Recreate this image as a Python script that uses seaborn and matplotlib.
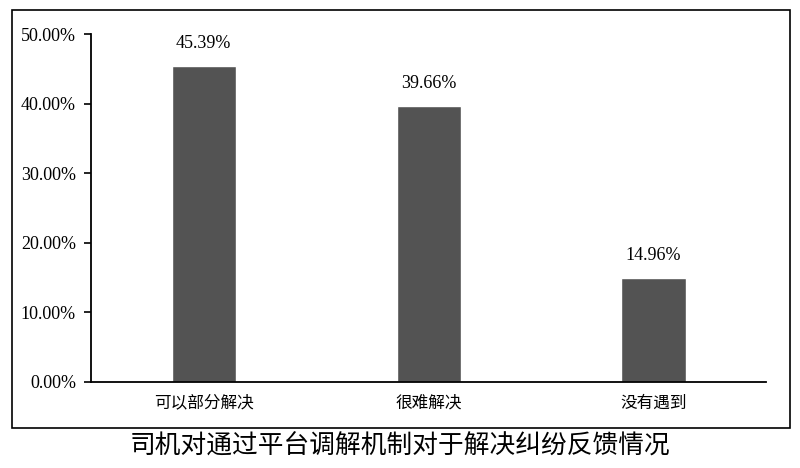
import matplotlib
matplotlib.use('Agg')
import matplotlib.pyplot as plt
import seaborn as sns
import pandas as pd
from matplotlib.patches import Rectangle
from matplotlib.ticker import FuncFormatter

# 数据
categories = ['可以部分解决', '很难解决', '没有遇到']
values = [45.39, 39.66, 14.96]
title = '司机对通过平台调解机制对于解决纠纷反馈情况'

sns.set_style('ticks')
plt.rcParams['font.family'] = ['Liberation Serif', 'Noto Sans CJK SC']
plt.rcParams['text.color'] = 'black'
plt.rcParams['xtick.color'] = 'black'
plt.rcParams['ytick.color'] = 'black'
plt.rcParams['axes.edgecolor'] = 'black'

df = pd.DataFrame({'cat': categories, 'val': values})

fig = plt.figure(figsize=(8, 4.68), dpi=100)
ax = fig.add_axes([0.114, 0.184, 0.8435, 0.743])

sns.barplot(data=df, x='cat', y='val', color='#535353', width=0.285,
            saturation=1, ax=ax)

for i, v in enumerate(values):
    ax.text(i, v + 2.0, f'{v:.2f}%', ha='center', va='bottom', fontsize=13,
            family='Liberation Serif')

ax.set_xlim(-0.5, 2.5)
ax.set_ylim(0, 50)
ax.set_yticks([0, 10, 20, 30, 40, 50])
ax.yaxis.set_major_formatter(FuncFormatter(lambda y, p: f'{y:.2f}%'))
ax.set_xlabel('')
ax.set_ylabel('')
ax.tick_params(axis='y', labelsize=13, length=5, width=1.2, direction='out', pad=6)
ax.tick_params(axis='x', length=0, pad=9)
for lbl in ax.get_xticklabels():
    lbl.set_family('Noto Sans CJK SC')
    lbl.set_fontsize(12)
sns.despine(ax=ax)
ax.spines['left'].set_linewidth(1.3)
ax.spines['bottom'].set_linewidth(1.3)

# 外框
fig.patches.append(Rectangle((0.015, 0.0855), 0.9725, 0.893, transform=fig.transFigure,
                             fill=False, edgecolor='black', linewidth=1.2))

fig.text(0.5, 0.045, title, ha='center', va='center', fontsize=18.5,
         family='Noto Sans CJK SC')

fig.savefig('out.png', dpi=100)
